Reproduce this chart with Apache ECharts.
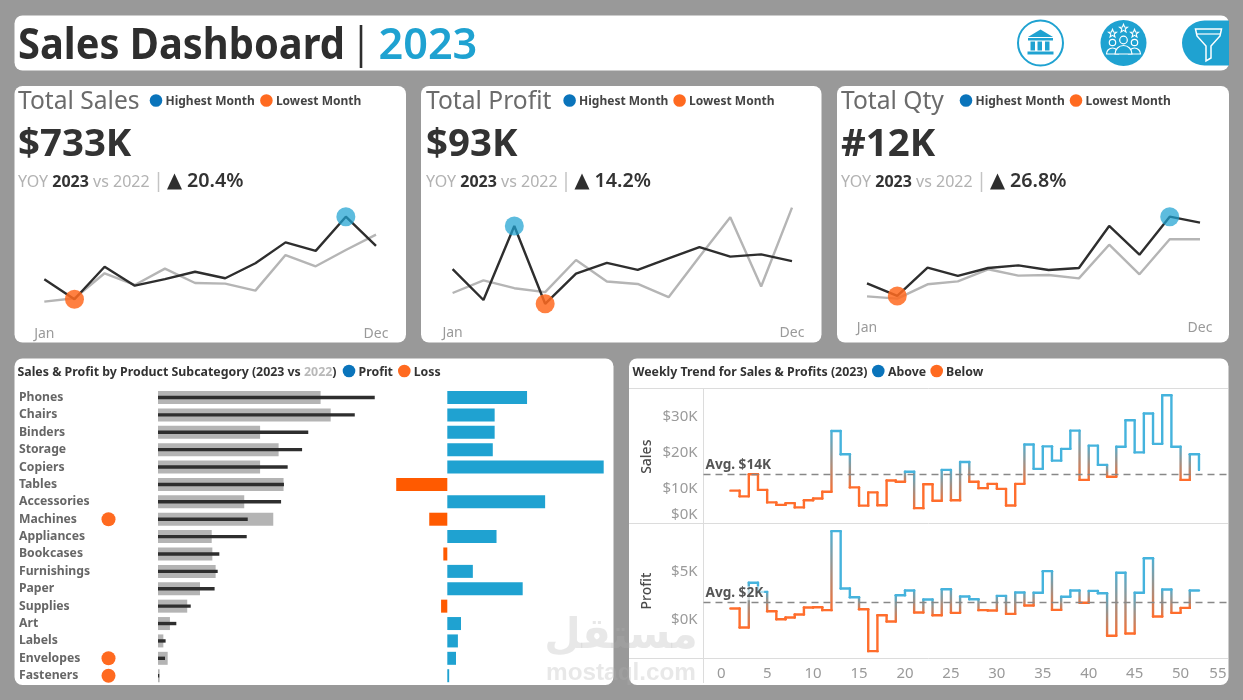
<!DOCTYPE html>
<html>
<head>
<meta charset="utf-8">
<title>Sales Dashboard 2023</title>
<script src="https://cdn.jsdelivr.net/npm/echarts@6/dist/echarts.min.js"></script>
<style>
html,body{margin:0;padding:0;background:#999999;}
#chart{width:1243px;height:700px;}
</style>
</head>
<body>
<div id="chart"></div>
<script>
// Monthly figures, 2023 against 2022
const months = ['Jan','Feb','Mar','Apr','May','Jun','Jul','Aug','Sep','Oct','Nov','Dec'];
const sales2023 = [44.0,20.3,58.9,36.5,44.3,53.0,45.3,63.1,87.9,77.8,118.4,83.8];
const sales2022 = [17.5,21.5,51.2,37.3,56.7,39.7,38.9,30.6,72.9,59.5,78.9,97.1];
const profit2023 = [7.1,1.6,14.75,0.93,6.3,8.2,6.95,9.0,11.0,9.3,9.7,8.5];
const profit2022 = [2.85,5.1,3.7,3.0,8.7,4.9,4.45,2.1,9.3,16.3,4.0,18.0];
const qty2023 = [595,360,887,732,880,930,843,880,1662,1128,1835,1724];
const qty2022 = [353,310,577,632,856,738,750,688,1314,763,1414,1414];

// Sub-category totals in $K
const subcategories = ['Phones','Chairs','Binders','Storage','Copiers','Tables','Accessories','Machines','Appliances','Bookcases','Furnishings','Paper','Supplies','Art','Labels','Envelopes','Fasteners'];
const subSales2023 = [105.3,95.6,73.0,70.0,63.0,61.2,59.8,43.6,43.1,29.8,29.0,27.5,15.9,8.9,3.7,3.4,0.6];
const subSales2022 = [79.0,83.9,49.6,58.6,49.6,61.0,41.9,56.0,26.1,26.4,28.0,20.4,14.2,5.8,2.6,4.7,0.8];
const subProfit2023 = [12.8,7.6,7.6,7.3,25.1,-8.2,15.7,-2.9,7.9,-0.64,4.1,12.1,-1.0,2.2,1.7,1.4,0.3];

// Weekly series for 2023
const weeks = [1,2,3,4,5,6,7,8,9,10,11,12,13,14,15,16,17,18,19,20,21,22,23,24,25,26,27,28,29,30,31,32,33,34,35,36,37,38,39,40,41,42,43,44,45,46,47,48,49,50,51,52];
const weeklySales = [9.4,7.8,14.0,9.6,6.1,5.4,5.9,4.7,6.7,7.2,9.1,26.1,19.6,10.3,5.2,8.9,5.3,12.25,11.9,14.7,4.5,11.2,6.55,15.2,6.7,17.4,11.9,10.1,11.3,9.9,5.25,11.3,22.3,15.5,21.8,17.8,21.1,26.2,12.4,22.0,16.6,13.3,21.7,29.1,20.1,31.0,22.5,36.1,21.7,12.4,19.6,15.2];
const weeklyProfit = [1.15,-0.84,3.85,2.9,0.87,0.03,0.21,0.52,1.26,1.29,0.98,9.27,3.25,2.34,1.08,-3.32,0.45,-0.21,2.55,3.04,0.73,2.1,0.45,3.18,0.7,2.41,2.13,0.98,0.94,2.48,0.59,2.83,1.47,2.8,5.07,1.01,2.38,3.04,1.75,3.0,2.76,-1.71,4.9,-1.47,2.8,6.43,0.31,3.15,0.7,1.22,3.04,3.04];
const avgSales = 14.1;
const avgProfit = 1.8;
const weekTicks = [0,5,10,15,20,25,30,35,40,45,50,55];
const salesTicks = [0,10,20,30];
const profitTicks = [0,5];

// Headline text for the three KPI cards
const kpiTitles = ['Total Sales','Total Profit','Total Qty'];
const kpiValues = ['$733K','$93K','#12K'];
const kpiChange = ['20.4%','14.2%','26.8%'];

const FONT = '"Noto Sans", sans-serif';
const BLUE = '#1fa2d1', DOT_BLUE = '#0a74bb', ORANGE = '#ff6a20', BAR_ORANGE = '#ff5a00';
const LINE_BLUE = '#45b3dd', LINE_ORANGE = '#ff6d2c', INK = '#333333', DIM = '#b5b5b5', TICK = '#9a9a9a', RULE = '#dcdcdc';

const graphic = [];
const text = (x, y, s, size, fill, weight, extra) => graphic.push(Object.assign({
  type: 'text', z: 5,
  style: Object.assign({ x, y, text: s, fontSize: size, fill, fontWeight: weight || 'normal', fontFamily: FONT, verticalAlign: 'middle', align: 'left' }, extra || {})
}));
const panel = (x, y, w, h) => graphic.push({ type: 'rect', z: 0, shape: { x, y, width: w, height: h, r: 8 }, style: { fill: '#ffffff' } });
const dot = (x, y, fill, r) => graphic.push({ type: 'circle', z: 5, shape: { cx: x, cy: y, r: r || 6.3 }, style: { fill } });
const rule = (x1, y1, x2, y2, color, w) => graphic.push({ type: 'line', z: 1, shape: { x1, y1, x2, y2 }, style: { stroke: color, lineWidth: w || 1 } });
const poly = (pts, fill, stroke, w) => graphic.push({ type: 'polygon', z: 6, shape: { points: pts }, style: { fill: fill || 'none', stroke: stroke || 'none', lineWidth: w || 1 } });

// Panels
panel(14.5, 15.5, 1214.5, 55);
panel(14.5, 86, 391.5, 256.5);
panel(421, 86, 400.5, 256.5);
panel(837, 86, 392, 256.5);
panel(14.5, 358.5, 599, 326.5);
panel(629, 358.5, 599.5, 326.5);

// Header: a tall, slightly condensed title
graphic.push({
  type: 'text', z: 5, x: 18, y: 47, scaleX: 0.918,
  style: { x: 0, y: 0, text: 'Sales Dashboard', fontSize: 43.4, fill: '#2e2e2e', fontWeight: 'bold', fontFamily: FONT, verticalAlign: 'middle', align: 'left' }
});
rule(361, 25, 361, 68, '#2e2e2e', 2.6);
text(378.5, 46.5, '2023', 43.2, BLUE, '600');

// Header icons: bank
graphic.push({ type: 'circle', z: 5, shape: { cx: 1040.5, cy: 43, r: 22.5 }, style: { fill: '#fff', stroke: BLUE, lineWidth: 2 } });
poly([[1040.5,29.5],[1028,37],[1053,37]], BLUE);
graphic.push({ type: 'rect', z: 6, shape: { x: 1028, y: 38, width: 25, height: 2.5 }, style: { fill: BLUE } });
[1030.5, 1037.5, 1045].forEach(x => graphic.push({ type: 'rect', z: 6, shape: { x, y: 41.5, width: 4.5, height: 9 }, style: { fill: BLUE } }));
graphic.push({ type: 'rect', z: 6, shape: { x: 1027.5, y: 51.5, width: 26, height: 3 }, style: { fill: BLUE } });

// Header icons: people with stars
graphic.push({ type: 'circle', z: 5, shape: { cx: 1123.5, cy: 43, r: 23 }, style: { fill: BLUE } });
[[1123.5,28.5],[1112.5,33.5],[1134.5,33.5]].forEach(c => {
  const pts = [];
  for (let i = 0; i < 10; i++) {
    const r = i % 2 ? 1.8 : 4.2, a = -Math.PI / 2 + i * Math.PI / 5;
    pts.push([c[0] + r * Math.cos(a), c[1] + r * Math.sin(a)]);
  }
  poly(pts, null, '#fff', 1.1);
});
// Shoulders first, outer pair behind the middle figure
[[1112.5,54,6],[1134.5,54,6],[1123.5,54,8.5]].forEach(c => graphic.push({ type: 'sector', z: 6, shape: { cx: c[0], cy: c[1], r: c[2], r0: 0, startAngle: Math.PI, endAngle: 2 * Math.PI }, style: { fill: BLUE, stroke: '#fff', lineWidth: 1.2 } }));
[[1112.5,42.5,3.2],[1134.5,42.5,3.2],[1123.5,40,3.8]].forEach(c => graphic.push({ type: 'circle', z: 6, shape: { cx: c[0], cy: c[1], r: c[2] }, style: { fill: BLUE, stroke: '#fff', lineWidth: 1.2 } }));

// Header icons: funnel
graphic.push({ type: 'rect', z: 5, shape: { x: 1182, y: 20.5, width: 47, height: 45, r: [22.5, 0, 0, 22.5] }, style: { fill: BLUE } });
poly([[1195.5,29],[1221.5,29],[1220,36],[1211,46],[1211,58],[1206,61],[1206,46],[1197,36]], null, '#fff', 1.5);
graphic.push({ type: 'line', z: 6, shape: { x1: 1197, y1: 34, x2: 1220, y2: 34 }, style: { stroke: '#fff', lineWidth: 1.2 } });

// KPI card heading rows
const cardText = [
  { x: 18, dots: [156, 266.4], sep: 158.5 },
  { x: 426, dots: [569.6, 679.6], sep: 566 },
  { x: 841, dots: [966, 1076], sep: 981.5 }
];
cardText.forEach((c, i) => {
  text(c.x, 101.5, kpiTitles[i], 24.6, '#6b6b6b');
  dot(c.dots[0], 100.5, DOT_BLUE);
  text(c.dots[0] + 9.5, 101.5, 'Highest Month', 12, '#444', 'bold');
  dot(c.dots[1], 100.5, ORANGE);
  text(c.dots[1] + 9.5, 101.5, 'Lowest Month', 12, '#444', 'bold');
  text(c.x, 145, kpiValues[i], 38.4, INK, 'bold');
  text(c.x, 182.5, 'YOY {d|2023} vs 2022', 16, '#b2b2b2', 'normal', { rich: { d: { fill: INK, fontSize: 16, fontWeight: 'bold', fontFamily: FONT } } });
  rule(c.sep, 172, c.sep, 192, '#c4c4c4', 1.5);
  poly([[c.sep + 16,173.5],[c.sep + 8.5,189.5],[c.sep + 23.5,189.5]], '#2e2e2e');
  text(c.sep + 28.5, 181.5, kpiChange[i], 19.7, INK, '600');
});

// Subcategory panel heading
text(17.5, 372, 'Sales & Profit by Product Subcategory (2023 vs {g|2022})', 12.35, INK, 'bold', { rich: { g: { fill: '#b8b8b8', fontSize: 12.35, fontWeight: 'bold', fontFamily: FONT } } });
dot(349, 371, DOT_BLUE);
text(358.5, 372, 'Profit', 12.35, INK, 'bold');
dot(404.3, 371, ORANGE);
text(413.7, 372, 'Loss', 12.35, INK, 'bold');

// Weekly panel heading and frame
text(632.5, 372, 'Weekly Trend for Sales & Profits (2023)', 12.35, INK, 'bold');
dot(878.3, 371, DOT_BLUE);
text(888, 372, 'Above', 12.35, INK, 'bold');
dot(936.7, 371, ORANGE);
text(946, 372, 'Below', 12.35, INK, 'bold');
[388.5, 523.5, 658.5].forEach(y => rule(629, y, 1228, y, RULE, 1));
rule(703.5, 388.5, 703.5, 683, RULE, 1);

// Site mark in the lower middle of the page
const MARK = 'rgba(176,176,176,0.29)';
text(621, 637, 'مستقل', 42, MARK, 'bold', { align: 'center', fontFamily: '"DejaVu Sans", sans-serif' });
text(621, 673.5, 'mostaql.com', 24.3, MARK, 'bold', { align: 'center', fontFamily: '"Liberation Sans", sans-serif' });
graphic.slice(-2).forEach(g => { g.z = 100; });

const grid = [], xAxis = [], yAxis = [], series = [];
const hiddenValue = (gridIndex, min, max) => ({ type: 'value', gridIndex, min, max, show: false, splitLine: { show: false } });

// Monthly sparkline with highest and lowest month markers
function spark(left, width, top, height, min, max, current, prior) {
  const g = grid.length;
  grid.push({ left, width, top, height });
  xAxis.push({
    type: 'category', gridIndex: g, data: months, boundaryGap: false,
    axisLine: { show: false }, axisTick: { show: false },
    axisLabel: { interval: (i) => i === 0 || i === 11, color: TICK, fontSize: 14, fontFamily: FONT, margin: 6 }
  });
  yAxis.push(hiddenValue(g, min, max));
  const line = (data, color, z) => series.push({ type: 'line', xAxisIndex: g, yAxisIndex: g, data, symbol: 'none', z, lineStyle: { color, width: 2.4 }, silent: true });
  line(prior, DIM, 2);
  line(current, '#2e2e2e', 3);
  const hi = current.indexOf(Math.max(...current)), lo = current.indexOf(Math.min(...current));
  series.push({ type: 'scatter', xAxisIndex: g, yAxisIndex: g, z: 4, symbolSize: 19, data: [[hi, current[hi]]], itemStyle: { color: 'rgba(31,162,209,0.72)', opacity: 1 } });
  series.push({ type: 'scatter', xAxisIndex: g, yAxisIndex: g, z: 4, symbolSize: 19, data: [[lo, current[lo]]], itemStyle: { color: 'rgba(255,106,32,0.85)', opacity: 1 } });
}
spark(44.3, 331.7, 198.5, 122.1, -5, 140, sales2023, sales2022);
spark(452.6, 339.4, 196.4, 123.9, -2, 20, profit2023, profit2022);
spark(867, 333, 191.7, 123.6, 0, 2300, qty2023, qty2022);

// Subcategory rows: sales bars, decline flags and profit bars share one row height
const rowTop = 388.8, rowHeight = 295.6;
const catAxis = (g, show) => ({
  type: 'category', gridIndex: g, data: subcategories, inverse: true,
  axisLine: { show: false }, axisTick: { show: false },
  axisLabel: show ? { show: true, color: '#666', fontSize: 12.2, fontWeight: 'bold', fontFamily: FONT, align: 'left', margin: 139, padding: [2, 0, 0, 0] } : { show: false }
});

let g0 = grid.length;
grid.push({ left: 158, width: 247, top: rowTop, height: rowHeight });
const salesX = xAxis.length, salesY = yAxis.length;
xAxis.push(hiddenValue(g0, 0, 120));
yAxis.push(catAxis(g0, true));
yAxis.push(Object.assign(catAxis(g0, false), { show: false }));
series.push({ type: 'bar', xAxisIndex: salesX, yAxisIndex: salesY, data: subSales2022, barWidth: 13, z: 2, itemStyle: { color: '#b4b4b4' } });
series.push({ type: 'bar', xAxisIndex: salesX, yAxisIndex: salesY + 1, data: subSales2023, barWidth: 3.4, z: 3, itemStyle: { color: '#2e2e2e' } });

// Orange flags for subcategories whose sales fell year on year
let xi = xAxis.length, yi = yAxis.length, gi = grid.length;
grid.push({ left: 100, width: 17, top: rowTop, height: rowHeight });
xAxis.push(hiddenValue(gi, -1, 1));
yAxis.push(Object.assign(catAxis(gi, false), { show: false }));
series.push({
  type: 'scatter', xAxisIndex: xi, yAxisIndex: yi, symbolSize: 14, itemStyle: { color: ORANGE, opacity: 1 },
  data: subcategories.map((c, i) => subSales2023[i] < subSales2022[i] ? [0, c] : null).filter(Boolean)
});

// Profit and loss bars
xi = xAxis.length; yi = yAxis.length; gi = grid.length;
grid.push({ left: 385, width: 224.3, top: rowTop, height: rowHeight });
xAxis.push(hiddenValue(gi, -10, 26));
yAxis.push(Object.assign(catAxis(gi, false), { show: false }));
series.push({
  type: 'bar', xAxisIndex: xi, yAxisIndex: yi, barWidth: 13,
  data: subProfit2023.map(v => ({ value: v, itemStyle: { color: v < 0 ? BAR_ORANGE : BLUE } }))
});

// Weekly step chart: each week is a flat run, risers fade between the above and below colours
function weeklyPanel(top, height, min, max, values, avg, ticks, fmt, name, label, showX) {
  const ix = xAxis.length, iy = yAxis.length, ig = grid.length;
  grid.push({ left: 703.5, right: 15, top, height });
  xAxis.push({
    type: 'value', gridIndex: ig, min: -1.93, max: 55.16, show: showX,
    axisLine: { show: false }, axisTick: { show: false }, splitLine: { show: false },
    axisLabel: { customValues: weekTicks, alignMaxLabel: 'right', color: TICK, fontSize: 15, fontFamily: FONT, margin: 8 }
  });
  yAxis.push({
    type: 'value', gridIndex: ig, min, max, name,
    nameLocation: 'middle', nameGap: 49, nameRotate: 90,
    nameTextStyle: { color: '#4a4a4a', fontSize: 14, fontWeight: 500, fontFamily: FONT },
    axisLine: { show: false }, axisTick: { show: false }, splitLine: { show: false },
    axisLabel: {
      customValues: ticks, formatter: fmt, color: TICK, fontSize: 15, fontFamily: FONT, margin: 6,
      rich: { low: { color: TICK, fontSize: 15, fontFamily: FONT, padding: [0, 0, 19, 0] } }
    }
  });
  const tone = v => v > avg ? LINE_BLUE : LINE_ORANGE;
  series.push({
    type: 'custom', xAxisIndex: ix, yAxisIndex: iy, z: 3, clip: false,
    dimensions: ['week', 'value', 'next'],
    encode: { x: 0, y: 1 },
    data: weeks.map((w, i) => [w, values[i], i + 1 < values.length ? values[i + 1] : values[i]]),
    renderItem(params, api) {
      const w = api.value(0), v = api.value(1), n = api.value(2);
      if (w === weeks[weeks.length - 1]) return null;
      const a = api.coord([w, v]), b = api.coord([w + 1, v]), c = api.coord([w + 1, n]);
      const hiTone = tone(Math.max(v, n)), loTone = tone(Math.min(v, n));
      const riser = hiTone === loTone ? hiTone : new echarts.graphic.LinearGradient(0, 0, 0, 1, [
        { offset: 0, color: hiTone }, { offset: 1, color: loTone }
      ]);
      const seg = (p, q, stroke) => ({
        type: 'line', shape: { x1: p[0], y1: p[1], x2: q[0], y2: q[1] },
        style: { stroke, lineWidth: 2.4, lineCap: 'round', fill: null }
      });
      return { type: 'group', children: [seg(b, c, riser), seg(a, b, tone(v))] };
    },
    markLine: {
      silent: true, symbol: 'none', z: 6,
      lineStyle: { color: '#888', type: [7, 5], width: 1.4 },
      label: {
        show: true, position: 'insideStartTop', formatter: label, distance: [1, 2],
        color: '#555', fontSize: 13.6, fontWeight: 'bold', fontFamily: FONT,
        backgroundColor: 'rgba(255,255,255,0.6)', padding: [0, 1]
      },
      data: [{ yAxis: avg }]
    }
  });
}
weeklyPanel(389.2, 135, 0, 37.8, weeklySales, avgSales, salesTicks, v => v === 0 ? '{low|$0K}' : '$' + v + 'K', 'Sales', 'Avg. $14K', false);
weeklyPanel(523.5, 135, -4.09, 10.07, weeklyProfit, avgProfit, profitTicks, v => '$' + v + 'K', 'Profit', 'Avg. $2K', true);

const chart = echarts.init(document.getElementById('chart'), null, { renderer: 'canvas', width: 1243, height: 700 });
chart.setOption({
  backgroundColor: '#999999',
  animation: false,
  textStyle: { fontFamily: FONT },
  graphic: { elements: graphic },
  grid, xAxis, yAxis, series
});
</script>
</body>
</html>
